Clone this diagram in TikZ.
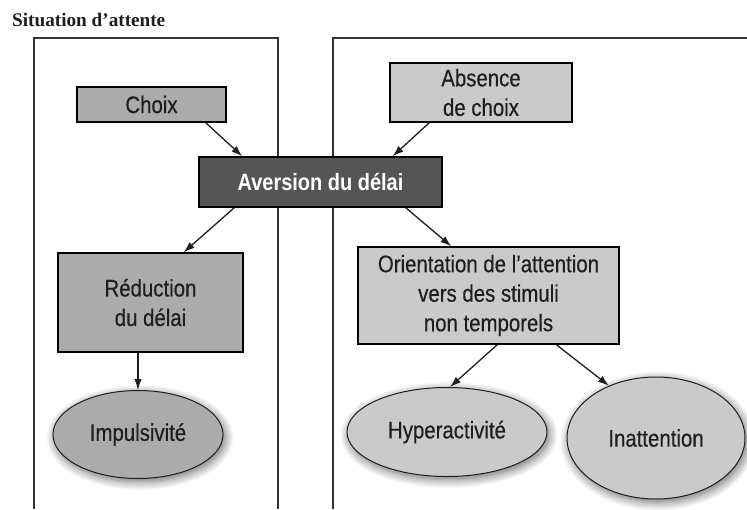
\documentclass[tikz,border=0pt]{standalone}
\usepackage{fontspec}
\setmainfont{Liberation Serif}
\setsansfont{Liberation Sans}[FakeStretch=0.85]
\newfontfamily\boxfont{Liberation Sans}[FakeStretch=0.85, FakeBold=0.35]
\usetikzlibrary{shapes.geometric,arrows.meta,shadows.blur}
\definecolor{leftgray}{HTML}{ABABAB}
\definecolor{rightgray}{HTML}{CACACA}
\definecolor{darkbox}{HTML}{555555}
\definecolor{ink}{HTML}{1E1E1E}
\definecolor{framecol}{HTML}{333333}
\tikzset{
  box/.style={draw=black, line width=1.4pt, inner sep=0pt, align=center, text=ink,
    font=\boxfont\fontsize{24}{29.5}\selectfont},
  oval/.style={ellipse, draw=ink, line width=1pt, inner sep=0pt, text=ink,
    font=\boxfont\fontsize{24}{29.5}\selectfont,
    blur shadow={shadow xshift=2pt, shadow yshift=-3pt, shadow blur radius=9pt, shadow blur steps=12, shadow opacity=60}},
  frame/.style={draw=framecol, line width=1.4pt},
  arr/.style={draw=ink, line width=1.3pt, -{Latex[length=11pt,width=7.5pt]}}
}
\begin{document}
\begin{tikzpicture}[x=1pt,y=-1pt]
\useasboundingbox (0,0) rectangle (747,509);
\node[anchor=base west, font=\rmfamily\bfseries\fontsize{19.2}{22}\selectfont, text=ink, inner sep=0pt] (title) at (12,26) {Situation d’attente};
% frames
\coordinate (lfA) at (34,509);
\coordinate (lfB) at (34,38);
\coordinate (lfC) at (278,38);
\coordinate (lfD) at (278,509);
\draw[frame] (lfA) -- (lfB) -- (lfC) -- (lfD);
\coordinate (rfA) at (333,509);
\coordinate (rfB) at (333,38);
\coordinate (rfC) at (747,38);
\draw[frame] (rfA) -- (rfB) -- (rfC);
% boxes
\node[box, fill=leftgray, minimum width=149pt, minimum height=35pt] (choix) at (151.5,104.5) {Choix};
\node[box, fill=rightgray, minimum width=182pt, minimum height=59pt] (abs) at (481,92.5) {Absence\\de choix};
\node[box, fill=darkbox, text=white, font=\sffamily\bfseries\fontsize{23.5}{29.5}\selectfont, minimum width=243pt, minimum height=50pt] (aver) at (320.5,182) {Aversion du délai};
\node[box, fill=leftgray, minimum width=185pt, minimum height=99pt] (red) at (150.5,302.5) {Réduction\\du délai};
\node[box, fill=rightgray, minimum width=261pt, minimum height=97pt] (ori) at (488.5,295.5) {Orientation de l’attention\\vers des stimuli\\non temporels};
% ellipses
\node[oval, fill=leftgray, minimum width=170pt, minimum height=88pt] (imp) at (138,434.5) {Impulsivité};
\node[oval, fill=rightgray, minimum width=200pt, minimum height=89pt] (hyp) at (447,432) {Hyperactivité};
\node[oval, fill=rightgray, minimum width=178pt, minimum height=122pt] (inat) at (656,438) {Inattention};
% arrows
\draw[arr] ([xshift=-21pt]choix.south east) -- ([xshift=44pt]aver.north west);
\draw[arr] ([xshift=40pt]abs.south west) -- ([xshift=-50pt]aver.north east);
\draw[arr] ([xshift=36pt]aver.south west) -- ([xshift=-60pt]red.north east);
\draw[arr] ([xshift=-37pt]aver.south east) -- ([xshift=94pt]ori.north west);
\draw[arr] (red.south -| imp.north) -- (imp.north);
\draw[arr] ([xshift=140pt]ori.south west) -- ([xshift=3pt]hyp.north);
\draw[arr] ([xshift=199pt]ori.south west) -- (inat.132);
\end{tikzpicture}
\end{document}
